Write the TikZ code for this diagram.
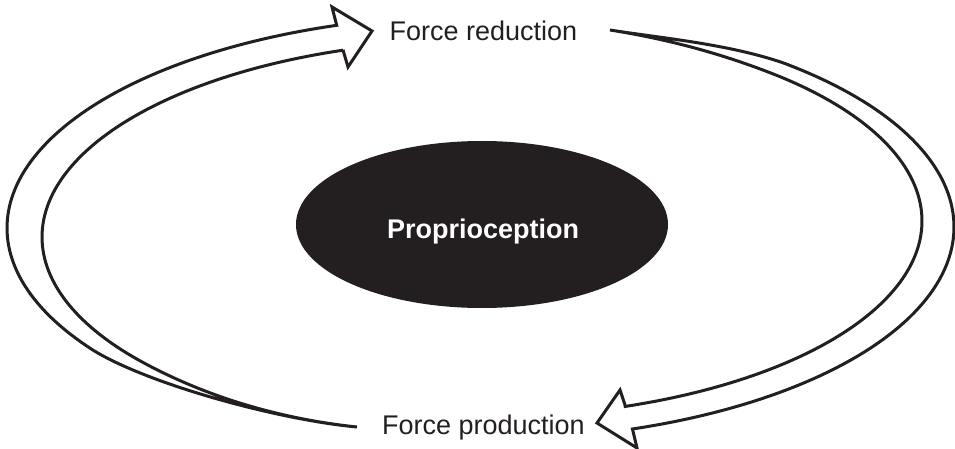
\documentclass[tikz,border=0pt]{standalone}
\usepackage{fontspec}
\setmainfont{Liberation Sans}
\definecolor{ink}{HTML}{231F20}
\begin{document}
\begin{tikzpicture}[x=1pt,y=-1pt,
  blockarrow/.style={draw=ink, line width=3pt, line join=miter, fill=white},
  lbl/.style={text=ink, font=\fontsize{27}{32}\selectfont, inner sep=0pt, anchor=base},
]
\useasboundingbox (0,0) rectangle (955,449);
% centre ellipse
\fill[ink] (482,224.5) ellipse [x radius=186, y radius=83.5];
\node[text=white, font=\fontsize{27}{32}\selectfont\bfseries, inner sep=0pt, anchor=base] (prop) at (483,238) {Proprioception};
% labels
\node[lbl] (red) at (483.5,41) {Force reduction};
\node[lbl] (prod) at (483.5,434) {Force production};
% left block arrow: from Force production up to Force reduction
\draw[blockarrow]
  (357,427) .. controls (280,420) and (150,385) .. (93.1,350.2)
  -- plot[domain=145:252.1, samples=90, variable=\t] ({483+476*cos(\t)}, {228+213*sin(\t)})
  -- (332,7) -- (372,31) -- (348,67) -- (343,50)
  -- plot[domain=251.5:140, samples=90, variable=\t] ({483+441*cos(\t)}, {237+197*sin(\t)})
  .. controls (215,401) and (290,420) .. (357,427)
  -- cycle;
% right block arrow: from Force reduction down to Force production
\draw[blockarrow]
  (610,30) .. controls (660,38) and (730,44) .. (785.8,63.8)
  -- plot[domain=-50:71.5, samples=90, variable=\t] ({483+471*cos(\t)}, {227+213*sin(\t)})
  -- (637,448) -- (597,423) -- (620,390) -- (625,405)
  -- plot[domain=71.1:-50, samples=90, variable=\t] ({483+439*cos(\t)}, {221+196*sin(\t)})
  .. controls (710,50) and (660,38) .. (610,30)
  -- cycle;
\end{tikzpicture}
\end{document}
